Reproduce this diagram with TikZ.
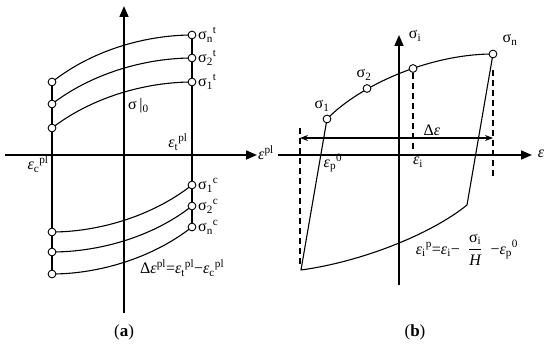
\documentclass[tikz,border=0pt]{standalone}
\usepackage{fontspec}
\setmainfont{Liberation Serif}
\usetikzlibrary{arrows.meta}
\pgfdeclarelayer{bg}
\pgfsetlayers{bg,main}
\newcommand{\sg}{σ}
\newcommand{\ep}{{\itshape ε}}
\newcommand{\sbs}[1]{\textsubscript{#1}}
\newcommand{\sps}[1]{\textsuperscript{#1}}
\begin{document}
\begin{tikzpicture}[x=1pt,y=-1pt,
 ax/.style={line width=1.6pt,-{Triangle[length=11pt,width=9pt]}},
 crv/.style={line width=1.1pt},
 pt/.style={circle,draw,fill=white,line width=0.9pt,inner sep=0pt,minimum size=7.8pt},
 lbl/.style={font=\fontsize{16}{18}\selectfont,inner sep=1pt},
 dsh/.style={line width=1.3pt,dash pattern=on 6pt off 4pt},
 dim/.style={line width=1.1pt,{Stealth[length=8pt,width=6pt]}-{Stealth[length=8pt,width=6pt]}}]
\useasboundingbox (0,0) rectangle (550,345);
% ---------- panel (a) ----------
\coordinate (aL) at (5,155); \coordinate (aR) at (257,155);
\coordinate (aB) at (124,313); \coordinate (aT) at (124,6);
\node[pt] (t1l) at (52,128) {}; \node[pt] (t2l) at (52,104) {}; \node[pt] (tnl) at (52,82) {};
\node[pt] (t1r) at (192,82) {}; \node[pt] (t2r) at (192,58) {}; \node[pt] (tnr) at (192,35) {};
\node[pt] (c1r) at (192,185) {}; \node[pt] (c2r) at (192,206) {}; \node[pt] (cnr) at (192,227) {};
\node[pt] (c1l) at (52,232) {}; \node[pt] (c2l) at (52,252) {}; \node[pt] (cnl) at (52,274) {};
\begin{pgfonlayer}{bg}
\draw[ax] (aL) -- (aR);
\draw[ax] (aB) -- (aT);
\draw[crv] (tnl.center) -- (cnl.center);
\draw[crv] (tnr.center) -- (cnr.center);
\draw[crv] (t1l.center) .. controls (95,95) and (150,82) .. (t1r.center);
\draw[crv] (t2l.center) .. controls (95,71) and (150,58) .. (t2r.center);
\draw[crv] (tnl.center) .. controls (95,48) and (150,35) .. (tnr.center);
\draw[crv] (c1l.center) .. controls (95,232) and (150,218) .. (c1r.center);
\draw[crv] (c2l.center) .. controls (95,252) and (150,239) .. (c2r.center);
\draw[crv] (cnl.center) .. controls (95,274) and (150,260) .. (cnr.center);
\end{pgfonlayer}
\node[lbl,anchor=west] (ltn) at (197,35) {\sg\sbs{n}\sps{t}};
\node[lbl,anchor=west] (lt2) at (197,58) {\sg\sbs{2}\sps{t}};
\node[lbl,anchor=west] (lt1) at (197,82) {\sg\sbs{1}\sps{t}};
\node[lbl,anchor=west] (lc1) at (197,185) {\sg\sbs{1}\sps{c}};
\node[lbl,anchor=west] (lc2) at (197,206) {\sg\sbs{2}\sps{c}};
\node[lbl,anchor=west] (lcn) at (197,227) {\sg\sbs{n}\sps{c}};
\node[lbl,anchor=west] (ls0) at (127,106) {\sg\,|\sbs{0}};
\node[lbl] (let) at (178,142) {\ep\sbs{t}\sps{pl}};
\node[lbl] (lec) at (38,164) {\ep\sbs{c}\sps{pl}};
\node[lbl,anchor=west] (lax) at (257,153) {\ep\sps{pl}};
\node[lbl,anchor=west] (lde) at (139,268) {Δ\ep\sps{pl}=\ep\sbs{t}\sps{pl}−\ep\sbs{c}\sps{pl}};
\node[font=\fontsize{17}{19}\selectfont] (capa) at (124,332) {(\textbf{a})};
% ---------- panel (b) ----------
\coordinate (bL) at (278,155); \coordinate (bR) at (532,155);
\coordinate (bB) at (399,285); \coordinate (bT) at (399,35);
\node[pt] (s1) at (327,119) {}; \node[pt] (s2) at (367,88.5) {};
\node[pt] (si) at (413,68.5) {}; \node[pt] (sn) at (493,54) {};
\coordinate (k1) at (467,205); \coordinate (k2) at (301,270);
\coordinate (dl1) at (300,128); \coordinate (dl2) at (300,266);
\coordinate (dm1) at (413,73); \coordinate (dm2) at (413,150);
\coordinate (dr1) at (493,70); \coordinate (dr2) at (493,178);
\coordinate (da) at (300,138); \coordinate (db) at (493,138);
\begin{pgfonlayer}{bg}
\draw[ax] (bL) -- (bR);
\draw[ax] (bB) -- (bT);
\draw[crv] (s1.center) .. controls (360,85) and (430,54) .. (sn.center);
\draw[crv,line join=round] (sn.center) -- (k1) .. controls (430,235) and (360,262) .. (k2) -- (s1.center);
\draw[dsh] (dl1) -- (dl2);
\draw[dsh] (dm1) -- (dm2);
\draw[dsh] (dr1) -- (dr2);
\draw[dim] (da) -- (db);
\end{pgfonlayer}
\node[lbl] (lsi) at (415,36) {\sg\sbs{i}};
\node[lbl] (lsn) at (510,40) {\sg\sbs{n}};
\node[lbl] (ls2) at (364,75) {\sg\sbs{2}};
\node[lbl] (ls1) at (322,106) {\sg\sbs{1}};
\node[lbl] (lDe) at (432,130) {Δ\ep};
\node[lbl] (lbx) at (541,154) {\ep};
\node[lbl] (lep) at (333,163) {\ep\sbs{p}\sps{0}};
\node[lbl] (lei) at (418,162) {\ep\sbs{i}};
\node[lbl] (lfm) at (467,250) {\ep\sbs{i}\sps{p}=\ep\sbs{i}−\enspace$\displaystyle\frac{\mbox{\sg\sbs{i}}}{\mbox{\itshape H}}$\enspace−\ep\sbs{p}\sps{0}};
\node[font=\fontsize{17}{19}\selectfont] (capb) at (415,332) {(\textbf{b})};
\end{tikzpicture}
\end{document}
